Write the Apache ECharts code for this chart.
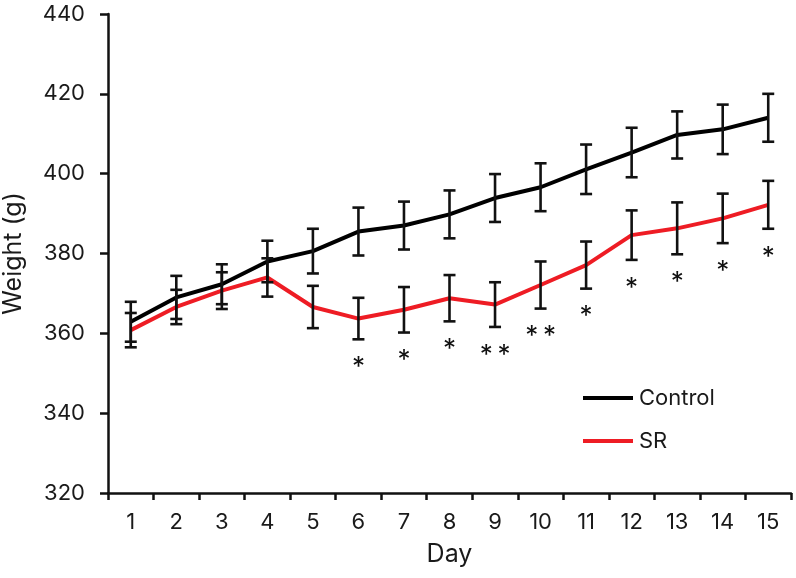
<!DOCTYPE html>
<html>
<head>
<meta charset="utf-8">
<script src="https://cdn.jsdelivr.net/npm/echarts@6/dist/echarts.min.js"></script>
<style>
html,body{margin:0;padding:0;background:#fff;}
#c{width:796px;height:578px;}
</style>
</head>
<body>
<div id="c"></div>
<script>
const days = ['1','2','3','4','5','6','7','8','9','10','11','12','13','14','15'];
const control = [362.9, 369.0, 372.3, 378.0, 380.6, 385.5, 387.0, 389.8, 393.9, 396.6, 401.1, 405.3, 409.7, 411.1, 414.0];
const controlErr = [5.0, 5.4, 5.0, 5.2, 5.6, 6.0, 6.0, 6.0, 6.0, 6.0, 6.2, 6.2, 5.9, 6.2, 6.0];
const sr = [360.8, 366.6, 370.7, 374.0, 366.6, 363.7, 365.9, 368.8, 367.2, 372.1, 377.1, 384.6, 386.3, 388.8, 392.2];
const srErr = [4.3, 4.3, 4.6, 4.8, 5.3, 5.2, 5.7, 5.8, 5.6, 5.9, 5.9, 6.2, 6.5, 6.2, 6.0];
const srSig = ['', '', '', '', '', '*', '*', '*', '*\u2009*', '*\u2009*', '*', '*', '*', '*', '*'];
const yTicks = [320, 340, 360, 380, 400, 420, 440];

const FONT = "Inter, 'Liberation Sans', Arial, sans-serif";
const TXT = '#1a1a1a';
const FS = 22;

function errData(vals, errs) {
  return vals.map((v, i) => [i, v - errs[i], v + errs[i]]);
}

function makeErrRender(sigArr) {
  return function (params, api) {
    const i = api.value(0);
    const pLow = api.coord([i, api.value(1)]);
    const pHigh = api.coord([i, api.value(2)]);
    const x = pLow[0];
    const cw = 6;
    const st = { stroke: '#111', lineWidth: 2.6 };
    const children = [
      { type: 'line', shape: { x1: x, y1: pHigh[1], x2: x, y2: pLow[1] }, style: st },
      { type: 'line', shape: { x1: x - cw, y1: pHigh[1], x2: x + cw, y2: pHigh[1] }, style: st },
      { type: 'line', shape: { x1: x - cw, y1: pLow[1], x2: x + cw, y2: pLow[1] }, style: st }
    ];
    const s = sigArr ? sigArr[params.dataIndex] : '';
    if (s) {
      children.push({
        type: 'text',
        style: {
          text: s, x: x, y: pLow[1] + 15,
          align: 'center', verticalAlign: 'top',
          fontSize: 26, fontFamily: FONT, fill: '#111'
        }
      });
    }
    return { type: 'group', children: children };
  };
}

const chart = echarts.init(document.getElementById('c'), null, { renderer: 'canvas' });
chart.setOption({
  backgroundColor: '#fff',
  animation: false,
  textStyle: { fontFamily: FONT },
  grid: { left: 108, right: 5, top: 14, bottom: 85, containLabel: false, outerBoundsMode: 'none' },
  legend: {
    orient: 'vertical',
    left: 583,
    top: 386,
    padding: 0,
    itemWidth: 50,
    itemHeight: 4,
    itemGap: 19,
    icon: 'rect',
    data: ['Control', 'SR'],
    textStyle: { fontSize: FS, color: TXT, fontFamily: FONT, lineHeight: 24, padding: [0, 0, 0, 1] }
  },
  xAxis: {
    type: 'category',
    data: days,
    boundaryGap: true,
    name: 'Day',
    nameLocation: 'middle',
    nameGap: 49,
    nameTextStyle: { fontSize: 25, color: TXT, fontFamily: FONT },
    axisLine: { lineStyle: { color: '#111', width: 2.5 } },
    axisTick: { show: true, length: 7, lineStyle: { color: '#111', width: 2.5 } },
    axisLabel: { fontSize: FS, color: TXT, margin: 18, fontFamily: FONT },
    splitLine: { show: false }
  },
  yAxis: {
    type: 'value',
    min: yTicks[0],
    max: yTicks[yTicks.length - 1],
    interval: yTicks[1] - yTicks[0],
    name: 'Weight (g)',
    nameLocation: 'middle',
    nameGap: 82,
    nameTextStyle: { fontSize: 25, color: TXT, fontFamily: FONT },
    axisLine: { show: true, lineStyle: { color: '#111', width: 2.5 } },
    axisTick: { show: true, length: 8, lineStyle: { color: '#111', width: 2.5 } },
    axisLabel: { fontSize: FS, color: TXT, margin: 23, fontFamily: FONT },
    splitLine: { show: false }
  },
  series: [
    {
      name: 'Control', type: 'line', data: control,
      symbol: 'none', lineStyle: { color: '#000', width: 4 }, itemStyle: { color: '#000' }, z: 3
    },
    {
      name: 'SR', type: 'line', data: sr,
      symbol: 'none', lineStyle: { color: '#ee1c24', width: 4 }, itemStyle: { color: '#ee1c24' }, z: 3
    },
    {
      type: 'custom', name: 'ctrlErr', data: errData(control, controlErr),
      renderItem: makeErrRender(null), z: 5, silent: true
    },
    {
      type: 'custom', name: 'srErr', data: errData(sr, srErr),
      renderItem: makeErrRender(srSig), z: 5, silent: true
    }
  ]
});
</script>
</body>
</html>
